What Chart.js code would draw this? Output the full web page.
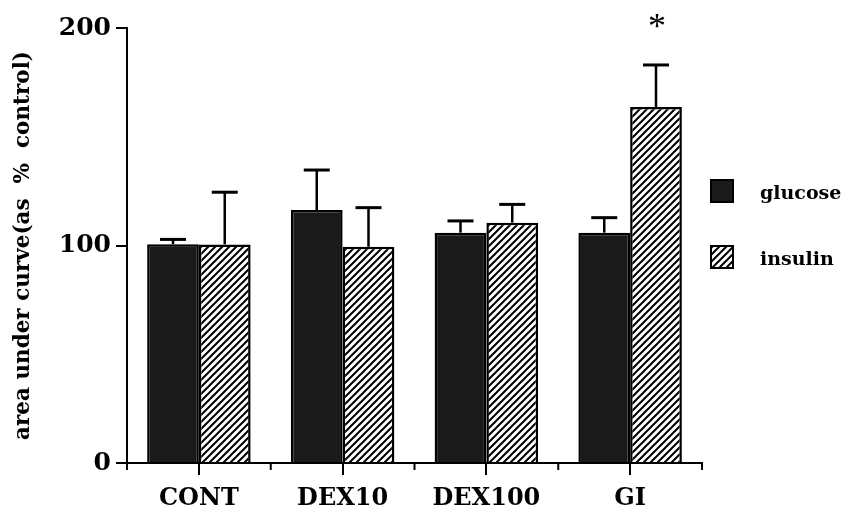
<!DOCTYPE html>
<html><head><meta charset="utf-8">
<script src="https://cdn.jsdelivr.net/npm/chart.js@4/dist/chart.umd.min.js"></script>
<style>html,body{margin:0;padding:0;background:#fff}#wrap{width:844px;height:518px}</style>
</head><body><div id="wrap"><canvas id="c" width="844" height="518"></canvas></div>
<script>
const categories = ['CONT', 'DEX10', 'DEX100', 'GI'];
const seriesNames = ['glucose', 'insulin'];
const glucoseMean = [100.6, 116.3, 105.9, 105.9];
const glucoseErr = [2.2, 18.4, 5.4, 6.9];
const insulinMean = [100.5, 99.4, 110.5, 163.7];
const insulinErr = [24.0, 18.0, 8.4, 19.3];
const insulinMarks = ['', '', '', '*'];
const yTicks = [0, 100, 200];
const yTitle = 'area under curve(as  %  control)';

const SERIF = '"DejaVu Serif", serif';

function hatchPattern() {
  const s = 7;
  const cv = document.createElement('canvas');
  cv.width = s; cv.height = s;
  const g = cv.getContext('2d');
  g.fillStyle = '#fff'; g.fillRect(0, 0, s, s);
  g.strokeStyle = '#000'; g.lineWidth = 2;
  g.beginPath();
  g.moveTo(-1, s + 1); g.lineTo(s + 1, -1);
  g.moveTo(-1, 1); g.lineTo(1, -1);
  g.moveTo(s - 1, s + 1); g.lineTo(s + 1, s - 1);
  g.stroke();
  return document.getElementById('c').getContext('2d').createPattern(cv, 'repeat');
}
const hatch = hatchPattern();
const errs = [glucoseErr, insulinErr];
const means = [glucoseMean, insulinMean];

const errorBars = {
  id: 'errorBars',
  afterDatasetsDraw(chart) {
    const ctx = chart.ctx, y = chart.scales.y;
    ctx.save();
    ctx.strokeStyle = '#000';
    chart.data.datasets.forEach((ds, di) => {
      const meta = chart.getDatasetMeta(di);
      meta.data.forEach((el, i) => {
        const top = y.getPixelForValue(means[di][i] + errs[di][i]);
        ctx.lineWidth = 2.5;
        ctx.beginPath(); ctx.moveTo(el.x, el.y); ctx.lineTo(el.x, top); ctx.stroke();
        ctx.lineWidth = 3;
        ctx.beginPath(); ctx.moveTo(el.x - 13, top); ctx.lineTo(el.x + 13, top); ctx.stroke();
        if (di === 1 && insulinMarks[i]) {
          ctx.font = '36px "Liberation Serif", serif';
          ctx.fillStyle = '#000';
          ctx.textAlign = 'center';
          ctx.textBaseline = 'alphabetic';
          const m = ctx.measureText(insulinMarks[i]);
          const cy = top - 44;
          ctx.fillText(insulinMarks[i], el.x + 1, cy + (m.actualBoundingBoxAscent - m.actualBoundingBoxDescent) / 2);
        }
      });
    });
    ctx.restore();
  }
};

const minorTicks = {
  id: 'minorTicks',
  afterDraw(chart) {
    const ctx = chart.ctx, x = chart.scales.x, b = chart.chartArea.bottom;
    ctx.save();
    ctx.strokeStyle = '#000'; ctx.lineWidth = 2;
    for (let i = 0; i <= categories.length; i++) {
      const px = x.getPixelForValue(i - 0.5);
      ctx.beginPath(); ctx.moveTo(px, b); ctx.lineTo(px, b + 7); ctx.stroke();
    }
    ctx.restore();
  }
};

const customLegend = {
  id: 'customLegend',
  afterDraw(chart) {
    const ctx = chart.ctx;
    const left = chart.chartArea.right + 8;
    const tops = [179, 245];
    ctx.save();
    chart.data.datasets.forEach((ds, i) => {
      const t = tops[i], s = 24;
      ctx.fillStyle = ds.backgroundColor;
      ctx.fillRect(left, t, s, s);
      ctx.strokeStyle = '#000'; ctx.lineWidth = 2;
      ctx.strokeRect(left + 1, t + 1, s - 2, s - 2);
      ctx.fillStyle = '#000';
      ctx.font = 'bold 19px ' + SERIF;
      ctx.textAlign = 'left'; ctx.textBaseline = 'alphabetic';
      ctx.fillText(ds.label, left + 50, t + 20);
    });
    ctx.restore();
  }
};

new Chart(document.getElementById('c'), {
  type: 'bar',
  data: {
    labels: categories,
    datasets: [
      { label: seriesNames[0], data: glucoseMean, backgroundColor: '#1a1a1a', borderColor: '#000', borderWidth: 2.5 },
      { label: seriesNames[1], data: insulinMean, backgroundColor: hatch, borderColor: '#000', borderWidth: 2.5 }
    ]
  },
  options: {
    responsive: false,
    animation: false,
    maintainAspectRatio: false,
    layout: { padding: { top: 28, right: 142, bottom: 0, left: 0 } },
    datasets: { bar: { barPercentage: 1, categoryPercentage: 0.72 } },
    plugins: { legend: { display: false }, tooltip: { enabled: false } },
    scales: {
      x: {
        type: 'category',
        offset: true,
        grid: { display: true, drawOnChartArea: false, drawTicks: true, tickLength: 12, offset: false, color: '#000', lineWidth: 2 },
        border: { display: true, color: '#000', width: 2 },
        ticks: { color: '#000', padding: 9, font: { family: SERIF, size: 24, weight: 'bold' }, maxRotation: 0 },
        afterFit: s => { s.height = 55; }
      },
      y: {
        min: 0, max: 200,
        afterBuildTicks: s => { s.ticks = yTicks.map(v => ({ value: v })); },
        grid: { display: true, drawOnChartArea: false, tickLength: 11, color: '#000', lineWidth: 2 },
        border: { display: true, color: '#000', width: 2 },
        ticks: { color: '#000', padding: 5, font: { family: SERIF, size: 25, weight: 'bold' } },
        title: { display: true, text: yTitle, color: '#000', font: { family: SERIF, size: 21.5, weight: 'bold' }, padding: { top: 11, bottom: 0 } },
        afterFit: s => { s.width = 127; }
      }
    }
  },
  plugins: [errorBars, minorTicks, customLegend]
});
</script></body></html>
